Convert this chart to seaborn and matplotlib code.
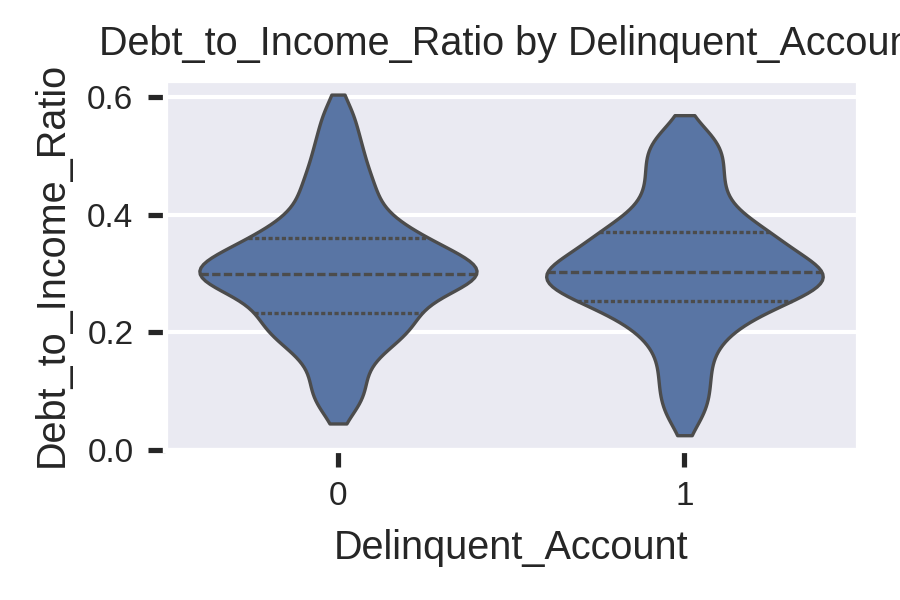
import matplotlib
matplotlib.use("Agg")
import matplotlib.pyplot as plt
import seaborn as sns
import pandas as pd

group0 = [0.077, 0.10, 0.13, 0.16, 0.18, 0.19, 0.20, 0.21, 0.22, 0.23, 0.235, 0.25, 0.26, 0.27,
          0.28, 0.285, 0.29, 0.295, 0.30, 0.30, 0.30, 0.305, 0.31, 0.315, 0.32, 0.33, 0.34, 0.345,
          0.35, 0.36, 0.365, 0.38, 0.39, 0.41, 0.43, 0.45, 0.47, 0.50, 0.53, 0.573]
group1 = [0.057, 0.09, 0.12, 0.15, 0.18, 0.20, 0.215, 0.23, 0.24, 0.25, 0.255, 0.26, 0.27, 0.275,
          0.28, 0.285, 0.29, 0.295, 0.30, 0.30, 0.305, 0.31, 0.315, 0.32, 0.33, 0.34, 0.35, 0.355,
          0.36, 0.37, 0.375, 0.39, 0.40, 0.42, 0.44, 0.46, 0.48, 0.50, 0.52, 0.538]
categories = [0, 1]

df = pd.DataFrame({
    "Delinquent_Account": [categories[0]] * len(group0) + [categories[1]] * len(group1),
    "Debt_to_Income_Ratio": group0 + group1,
})

sns.set_theme(style="darkgrid")
plt.rcParams["font.family"] = ["Liberation Sans", "DejaVu Sans"]
plt.rcParams["xtick.bottom"] = True
plt.rcParams["ytick.left"] = True
fig, ax = plt.subplots(figsize=(3, 2), dpi=300)
sns.violinplot(data=df, x="Delinquent_Account", y="Debt_to_Income_Ratio", inner="quartile",
               cut=1, bw_adjust=0.6, ax=ax, linewidth=0.8)
ax.set_title("Debt_to_Income_Ratio by Delinquent_Account", fontsize=9.5)
ax.set_xlabel("Delinquent_Account", fontsize=9.5)
ax.set_ylabel("Debt_to_Income_Ratio", fontsize=9.5)
ax.tick_params(labelsize=8, length=4)
ax.set_yticks([0.0, 0.2, 0.4, 0.6])
ax.set_ylim(0, 0.63)
fig.subplots_adjust(left=0.183, right=0.953, bottom=0.25, top=0.867)
fig.savefig("out.png", dpi=300)
